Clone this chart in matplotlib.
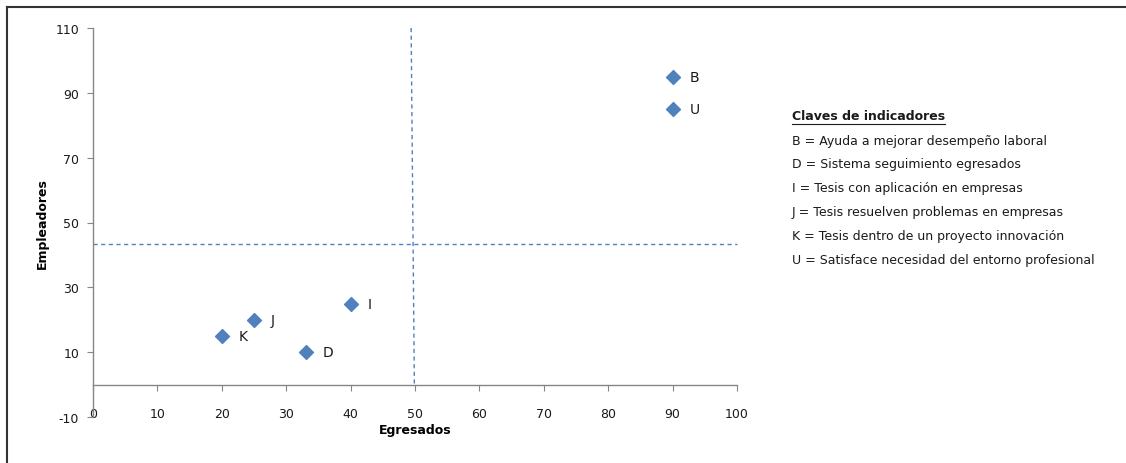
import matplotlib
matplotlib.use("Agg")
import matplotlib.pyplot as plt
from matplotlib.lines import Line2D

# Data
labels = ["B", "U", "I", "J", "K", "D"]
egresados = [90, 90, 40, 25, 20, 33]
empleadores = [95, 85, 25, 20, 15, 10]

vline_x = [49.4, 49.9]
vline_y = [110, 0]
hline_x = [0, 100]
hline_y = [43.5, 43.5]

xticks = list(range(0, 101, 10))
yticks = list(range(-10, 111, 20))

legend_title = "Claves de indicadores"
legend_lines = [
    "B = Ayuda a mejorar desempeño laboral",
    "D = Sistema seguimiento egresados",
    "I = Tesis con aplicación en empresas",
    "J = Tesis resuelven problemas en empresas",
    "K = Tesis dentro de un proyecto innovación",
    "U = Satisface necesidad del entorno profesional",
]

plt.rcParams['font.family'] = ['DejaVu Sans']
plt.rcParams['axes.unicode_minus'] = False
W, H = 1126, 464
fig = plt.figure(figsize=(W / 100, H / 100), dpi=100)
ax = fig.add_axes([93 / W, 1 - 418 / H, (737 - 93) / W, (418 - 29) / H])

ax.set_xlim(0, 100)
ax.set_ylim(-10, 110)

blue = "#4F81BD"
ax.plot(vline_x, vline_y, linestyle=(0, (3, 2.5)), color=blue, lw=1.0, clip_on=False)
ax.plot(hline_x, hline_y, linestyle=(0, (3, 2.5)), color=blue, lw=1.0, clip_on=False)
ax.scatter(egresados, empleadores, marker="D", s=50, color=blue, zorder=3, clip_on=False)
for lab, x, y in zip(labels, egresados, empleadores):
    ax.annotate(lab, (x, y), xytext=(12, 0), textcoords="offset points",
                va="center", ha="left", fontsize=10, color="#1a1a1a")

for s in ["top", "right"]:
    ax.spines[s].set_visible(False)
ax.spines["bottom"].set_position(("data", 0))
for s in ["left", "bottom"]:
    ax.spines[s].set_color("#868686")
    ax.spines[s].set_linewidth(1.0)

ax.set_xticks(xticks)
ax.set_yticks(yticks)
ax.tick_params(axis="both", colors="#868686", labelcolor="#1a1a1a", labelsize=9, length=4, direction="out")
ax.tick_params(axis="x", pad=12)
ax.tick_params(axis="y", pad=6)

ax.set_xlabel("Egresados", fontsize=9, fontweight="bold")
ax.set_ylabel("Empleadores", fontsize=9, fontweight="bold")
ax.xaxis.set_label_coords(0.5, (418 - 431) / (418 - 29))
ax.xaxis.label.set_va("center")
ax.yaxis.set_label_coords((42 - 93) / (737 - 93), 0.5)
ax.yaxis.label.set_va("center")

# legend-like key text
x0 = 792 / W
t = fig.text(x0, 1 - 117 / H, legend_title, fontsize=9, fontweight="bold", va="center", ha="left", color="#1a1a1a")
for i, line in enumerate(legend_lines):
    fig.text(x0, 1 - (141 + i * 23.9) / H, line, fontsize=9, va="center", ha="left", color="#1a1a1a")

fig.canvas.draw()
bb = t.get_window_extent()
uy = bb.y0 - 1
fig.add_artist(Line2D([bb.x0 / W, bb.x1 / W], [uy / H, uy / H], color="#1a1a1a", lw=0.8))

# frame (top and left only)
fig.add_artist(Line2D([7 / W, 1], [1 - 8 / H, 1 - 8 / H], color="#333333", lw=1.5))
fig.add_artist(Line2D([7 / W, 7 / W], [0, 1 - 8 / H], color="#333333", lw=1.5))

fig.savefig("out.png", dpi=100)
